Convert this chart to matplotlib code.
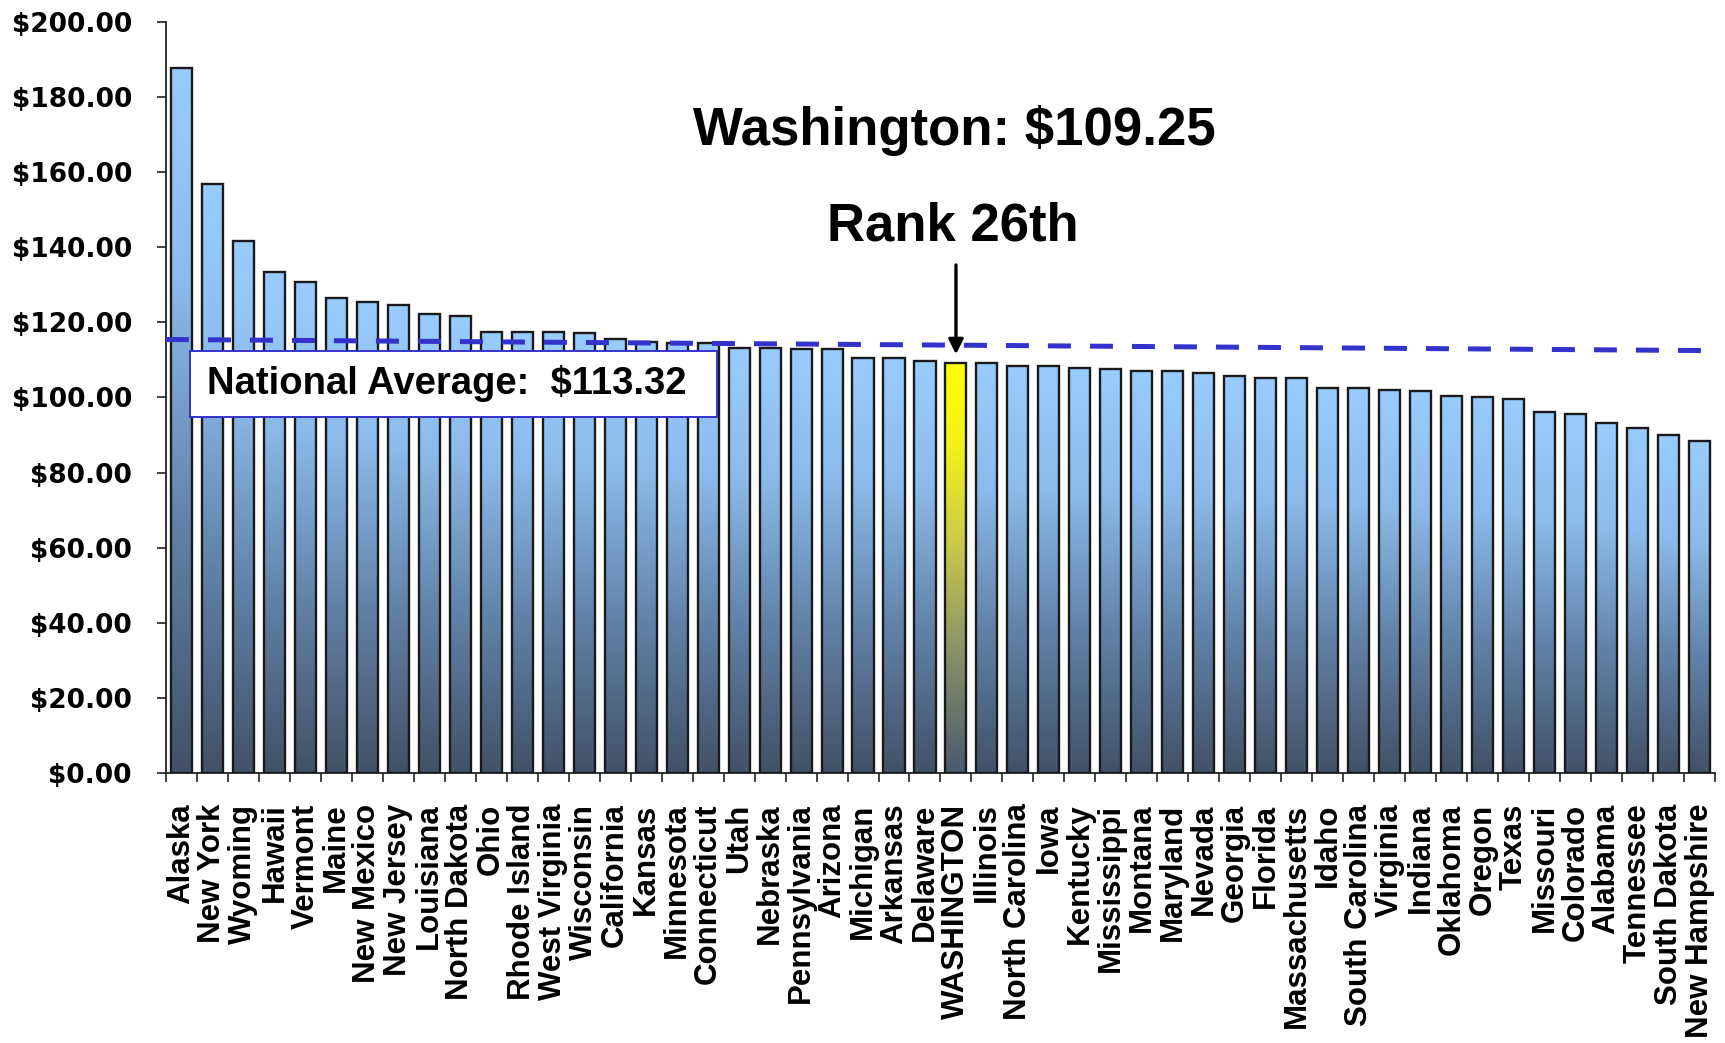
import numpy as np
import matplotlib
matplotlib.use("Agg")
import matplotlib.pyplot as plt
from matplotlib.colors import LinearSegmentedColormap
from matplotlib.patches import Rectangle

plt.rcParams['font.family'] = ['Liberation Sans', 'DejaVu Sans']

# ---------------- data ----------------
states = ["Alaska", "New York", "Wyoming", "Hawaii", "Vermont", "Maine", "New Mexico",
          "New Jersey", "Louisiana", "North Dakota", "Ohio", "Rhode Island", "West Virginia",
          "Wisconsin", "California", "Kansas", "Minnesota", "Connecticut", "Utah", "Nebraska",
          "Pennsylvania", "Arizona", "Michigan", "Arkansas", "Delaware", "WASHINGTON",
          "Illinois", "North Carolina", "Iowa", "Kentucky", "Mississippi", "Montana",
          "Maryland", "Nevada", "Georgia", "Florida", "Massachusetts", "Idaho",
          "South Carolina", "Virginia", "Indiana", "Oklahoma", "Oregon", "Texas",
          "Missouri", "Colorado", "Alabama", "Tennessee", "South Dakota", "New Hampshire"]
values = [187.8, 156.9, 141.6, 133.4, 130.8, 126.6, 125.5, 124.6, 122.3, 121.8,
          117.5, 117.5, 117.5, 117.1, 115.5, 114.9, 114.6, 114.4, 113.3, 113.3,
          112.8, 112.8, 110.6, 110.6, 109.6, 109.25, 109.1, 108.5, 108.5, 107.9,
          107.5, 107.1, 107.0, 106.5, 105.7, 105.3, 105.3, 102.6, 102.6, 102.1,
          101.6, 100.5, 100.0, 99.5, 96.2, 95.7, 93.1, 92.0, 89.9, 88.3]
highlight = "WASHINGTON"
avg_line_x = [-0.5, 49.1]
avg_line_y = [115.45, 112.5]
yticks = [0, 20, 40, 60, 80, 100, 120, 140, 160, 180, 200]
title_text = "Washington: $109.25"
rank_text = "Rank 26th"
avg_text = "National Average:  $113.32"

# ---------------- figure ----------------
fig = plt.figure(figsize=(17.25, 10.43), dpi=100)
ax = fig.add_axes([0.0962, 0.2589, 0.9942 - 0.0962, 0.9789 - 0.2589])

blue_cmap = LinearSegmentedColormap.from_list(
    "blue", [(0, '#425167'), (0.35, '#6182a8'), (0.7, '#8cbbeb'), (1, '#99ccff')])
yellow_cmap = LinearSegmentedColormap.from_list(
    "yel", [(0, '#4a596e'), (0.3, '#8a9268'), (0.55, '#c8c84c'), (0.8, '#f2f21a'), (1, '#ffff00')])

x = np.arange(len(states))
bars = ax.bar(x, values, width=0.68, facecolor='none', edgecolor='#1a1a1a',
              linewidth=1.7, zorder=3)
grad = np.linspace(0, 1, 256).reshape(-1, 1)
for st, rect in zip(states, bars):
    cm = yellow_cmap if st == highlight else blue_cmap
    x0, w, h = rect.get_x(), rect.get_width(), rect.get_height()
    im = ax.imshow(grad, extent=[x0, x0 + w, 0, h], origin='lower', aspect='auto',
                   cmap=cm, zorder=2, interpolation='bilinear')
    im.set_clip_path(rect)

# dashed national average line
ax.plot(avg_line_x, avg_line_y, color='#3333cc', lw=3.6, dashes=(4.6, 3.8),
        zorder=4, solid_capstyle='butt', dash_capstyle='butt')

ax.set_xlim(-0.5, len(states) - 0.5)
ax.set_ylim(0, 200)

# axes styling
for s in ['top', 'right']:
    ax.spines[s].set_visible(False)
for s in ['left', 'bottom']:
    ax.spines[s].set_linewidth(1.3)
    ax.spines[s].set_color('#222222')

ax.set_yticks(yticks)
ax.set_yticklabels([f"${v:.2f}" for v in yticks], fontfamily='DejaVu Sans',
                   fontweight='bold', fontsize=19)
ax.tick_params(axis='y', direction='out', length=6.5, width=1.2, pad=18, color='#222222')

ax.set_xticks(x)
ax.set_xticklabels(states, rotation=90, fontweight='bold', fontsize=22.5,
                   va='top', ha='center')
ax.tick_params(axis='x', which='major', length=0, pad=22)
ax.set_xticks(np.arange(-0.5, len(states), 1), minor=True)
ax.tick_params(axis='x', which='minor', direction='out', length=6.5, width=1.2, color='#222222')

# national average box
box = Rectangle((0.275, 94.9), 17.29 - 0.275, 112.4 - 94.9, facecolor='white',
                edgecolor='#3333cc', linewidth=1.4, zorder=5)
ax.add_patch(box)
ax.text(8.57, 103.7, avg_text, ha='center', va='center', fontsize=27.5,
        fontweight='bold', zorder=6)

# titles
wi = states.index(highlight)
ax.text(wi - 0.05, 167.3, title_text, ha='center', va='baseline', fontsize=38,
        fontweight='bold', clip_on=False)
ax.text(wi - 0.1, 141.8, rank_text, ha='center', va='baseline', fontsize=38,
        fontweight='bold', clip_on=False)

# arrow
ax.annotate("", xy=(wi, 111.5), xytext=(wi, 135.3),
            arrowprops=dict(arrowstyle='-|>', lw=2.4, color='black',
                            mutation_scale=22, shrinkA=0, shrinkB=0), zorder=6)

fig.savefig("out.png", dpi=100, facecolor='white')
